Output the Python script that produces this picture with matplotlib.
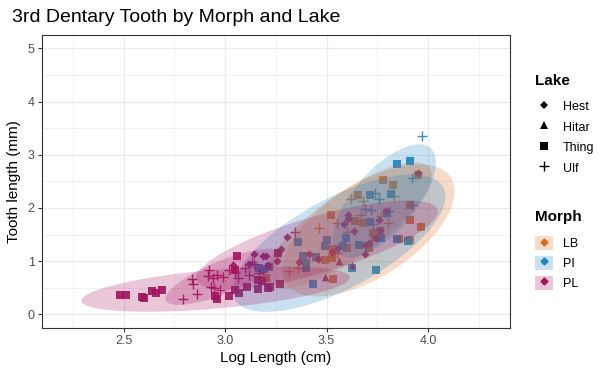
import numpy as np
import matplotlib
matplotlib.use('Agg')
import matplotlib.pyplot as plt
from matplotlib.lines import Line2D
from matplotlib.patches import Patch, Polygon

plt.rcParams['font.family'] = ['Liberation Sans', 'DejaVu Sans']

# ---------------- data ----------------
morphs = ['LB', 'PI', 'PL']
lakes = ['Hest', 'Hitar', 'Thing', 'Ulf']

lb_thing_x = [3.78, 3.83, 3.655, 3.52, 3.95, 3.91, 3.91, 3.965, 3.64, 3.68, 3.73, 3.765,
              3.855, 3.91, 3.60, 3.53, 3.525, 3.49, 3.71, 3.74, 3.20, 3.53]
lb_thing_y = [2.52, 2.43, 2.24, 1.87, 2.62, 2.06, 1.78, 1.64, 1.76, 1.72, 1.53, 1.56,
              1.42, 1.39, 1.25, 1.23, 1.06, 1.03, 1.25, 1.43, 0.68, 0.66]
lb_ulf_x = [3.465, 3.55, 3.62, 3.68, 3.835, 3.77, 3.805, 3.60, 3.67, 3.315, 3.36, 3.55]
lb_ulf_y = [1.62, 1.72, 2.16, 2.14, 2.22, 1.84, 1.72, 1.55, 1.87, 0.81, 0.88, 1.15]

pi_thing_x = [3.85, 3.91, 3.36, 3.50, 3.49, 3.595, 3.58, 3.385, 3.45, 3.40, 3.40, 3.165,
              3.215, 3.19, 3.435, 3.625, 3.745, 3.85, 3.90, 3.77, 3.80, 3.82, 3.715, 3.715, 3.66]
pi_thing_y = [2.83, 2.88, 1.36, 1.39, 1.29, 1.43, 1.29, 1.10, 1.07, 0.96, 0.87, 0.87,
              0.89, 0.85, 0.57, 0.88, 0.84, 1.42, 1.37, 1.43, 1.91, 2.27, 2.24, 1.73, 1.30]
pi_ulf_x = [3.97, 3.92, 3.92, 3.74, 3.76, 3.72, 3.81, 3.69, 3.73]
pi_ulf_y = [3.35, 2.57, 2.06, 2.28, 2.16, 1.97, 1.94, 1.98, 1.69]

pl_hest_x = [3.04, 3.12, 3.14, 3.185, 3.20, 3.21, 3.255, 3.26, 3.275, 3.305, 3.365, 3.415,
             3.46, 3.525, 3.555, 3.585, 3.607, 3.607, 3.635, 3.69, 3.69, 3.71, 3.745,
             3.76, 3.765, 3.795, 3.95]
pl_hest_y = [0.93, 0.94, 1.13, 1.09, 1.09, 0.92, 1.00, 1.18, 1.22, 1.45, 0.99, 1.14,
             1.04, 1.18, 1.25, 1.69, 1.87, 1.79, 1.56, 1.31, 1.14, 1.35, 1.43,
             1.77, 1.59, 1.94, 2.66]
pl_hitar_x = [3.49, 3.56, 3.625]
pl_hitar_y = [0.71, 1.01, 0.93]
pl_thing_x = [2.48, 2.51, 2.59, 2.60, 2.64, 2.66, 2.69, 2.95, 2.96, 3.02, 3.05, 3.07,
              3.11, 3.16, 3.18, 3.22, 3.27, 3.26, 3.05, 3.16, 3.21, 3.06]
pl_thing_y = [0.36, 0.36, 0.33, 0.30, 0.44, 0.41, 0.46, 0.34, 0.29, 0.35, 0.46, 0.41,
              0.52, 0.47, 0.63, 0.51, 0.57, 1.15, 0.84, 0.65, 0.49, 1.09]
pl_ulf_x = [2.79, 2.86, 2.835, 2.84, 2.92, 2.915, 2.94, 2.96, 2.99, 3.02, 3.065, 3.10,
            3.13, 3.165, 2.945, 2.975, 3.345, 3.12, 3.05, 3.14, 2.93]
pl_ulf_y = [0.28, 0.38, 0.66, 0.57, 0.84, 0.72, 0.68, 0.74, 0.71, 0.84, 0.68, 0.87,
            0.99, 0.77, 0.49, 0.46, 1.55, 0.74, 0.80, 0.95, 0.52]

groups = [
    ('LB', 'Thing', lb_thing_x, lb_thing_y),
    ('LB', 'Ulf', lb_ulf_x, lb_ulf_y),
    ('PI', 'Thing', pi_thing_x, pi_thing_y),
    ('PI', 'Ulf', pi_ulf_x, pi_ulf_y),
    ('PL', 'Hest', pl_hest_x, pl_hest_y),
    ('PL', 'Hitar', pl_hitar_x, pl_hitar_y),
    ('PL', 'Thing', pl_thing_x, pl_thing_y),
    ('PL', 'Ulf', pl_ulf_x, pl_ulf_y),
]

x_limits = [2.2, 4.3]
y_limits = [0, 5]
x_major = [2.5, 3.0, 3.5, 4.0]
x_minor = [2.25, 2.75, 3.25, 3.75, 4.25]
y_major = [0, 1, 2, 3, 4, 5]
y_minor = [0.5, 1.5, 2.5, 3.5, 4.5]

# ---------------- styles ----------------
morph_colors = {'LB': '#DD6B20', 'PI': '#1F83C6', 'PL': '#A3135F'}
lake_markers = {'Hest': 'D', 'Hitar': '^', 'Thing': 's', 'Ulf': '+'}
lake_sizes = {'Hest': 18, 'Hitar': 30, 'Thing': 26, 'Ulf': 60}


def cov_trob(X, nu=5, maxit=25, tol=0.01):
    n, p = X.shape
    loc = X.mean(axis=0)
    w = np.ones(n)
    D = X - loc
    for _ in range(maxit):
        w0 = w
        D = X - loc
        S = (D * (w / w.sum())[:, None]).T @ D
        Q = np.einsum('ij,jk,ik->i', D, np.linalg.inv(S), D)
        w = (nu + p) / (nu + Q)
        loc = (w[:, None] * X).sum(axis=0) / w.sum()
        if np.all(np.abs(w - w0) < tol):
            break
    cov = (D * w[:, None]).T @ D / n
    return loc, cov


def t_ellipse(x, y, level=0.95, segments=51):
    X = np.column_stack([x, y]).astype(float)
    n = len(X)
    loc, cov = cov_trob(X)
    dfd = n - 1
    fq = dfd / 2.0 * ((1 - level) ** (-2.0 / dfd) - 1)
    radius = np.sqrt(2 * fq)
    ang = np.linspace(0, 2 * np.pi, segments)
    circle = np.column_stack([np.cos(ang), np.sin(ang)])
    U = np.linalg.cholesky(cov).T
    return loc + radius * circle @ U


fig = plt.figure(figsize=(6.10, 3.77), dpi=100)
ax = fig.add_axes([41.7 / 610, 1 - 327.7 / 377, (510 - 41.7) / 610, (327.7 - 35) / 377])

# points
for morph, lake, gx, gy in groups:
    c = morph_colors[morph]
    m = lake_markers[lake]
    if m == '+':
        ax.scatter(gx, gy, marker=m, s=lake_sizes[lake], color=c, linewidths=1.0,
                   alpha=0.9, zorder=2)
    else:
        ax.scatter(gx, gy, marker=m, s=lake_sizes[lake], color=c, linewidths=0,
                   alpha=0.9, zorder=2)

# ellipses (t-based, 95%)
for morph, lake, gx, gy in groups:
    if len(gx) < 4:
        continue
    pts = t_ellipse(gx, gy)
    ax.add_patch(Polygon(pts, closed=True, facecolor=morph_colors[morph],
                         edgecolor='none', alpha=0.24, zorder=3))

dx = (x_limits[1] - x_limits[0]) * 0.05
dy = (y_limits[1] - y_limits[0]) * 0.05
ax.set_xlim(x_limits[0] - dx, x_limits[1] + dx)
ax.set_ylim(y_limits[0] - dy, y_limits[1] + dy)
ax.set_xticks(x_major)
ax.set_xticklabels(['2.5', '3.0', '3.5', '4.0'])
ax.set_xticks(x_minor, minor=True)
ax.set_yticks(y_major)
ax.set_yticks(y_minor, minor=True)
ax.grid(which='major', color='#EBEBEB', linewidth=0.9, zorder=0)
ax.grid(which='minor', color='#EBEBEB', linewidth=0.5, zorder=0)
ax.set_axisbelow(True)
ax.tick_params(which='minor', length=0)
ax.tick_params(which='major', length=3, width=0.8, color='#333333',
               labelcolor='#4D4D4D', labelsize=9, pad=2)
for s in ax.spines.values():
    s.set_color('#333333')
    s.set_linewidth(0.8)

ax.set_xlabel('Log Length (cm)', fontsize=11, labelpad=3, color='black')
ax.set_ylabel('Tooth length (mm)', fontsize=11, labelpad=5, color='black')
fig.text(12 / 610, 1 - 17 / 377, '3rd Dentary Tooth by Morph and Lake',
         fontsize=14, ha='left', va='center')

# legends
fig.text(535 / 610, 1 - 81 / 377, 'Lake', fontsize=11, fontweight='bold',
         ha='left', va='center')
fig.text(535 / 610, 1 - 217 / 377, 'Morph', fontsize=11, fontweight='bold',
         ha='left', va='center')

lake_handles = [Line2D([], [], marker=lake_markers[l], ls='', color='black',
                       markersize=(4 if l == 'Hest' else 5.5 if l != 'Ulf' else 7.5),
                       markeredgewidth=(1.0 if l == 'Ulf' else 0))
                for l in lakes]
leg1 = fig.legend(lake_handles, lakes, loc='upper left',
                  bbox_to_anchor=(530 / 610, 1 - 94.5 / 377), frameon=False,
                  fontsize=9, handlelength=1.4, handleheight=1.2,
                  labelspacing=0.55, handletextpad=0.8, borderaxespad=0)

morph_handles = [(Patch(facecolor=morph_colors[m], alpha=0.24, edgecolor='none'),
                  Line2D([], [], marker='D', ls='', color=morph_colors[m], markersize=3.5))
                 for m in morphs]
leg2 = fig.legend(morph_handles, morphs, loc='upper left',
                  bbox_to_anchor=(530 / 610, 1 - 231 / 377), frameon=False,
                  fontsize=9, handlelength=1.4, handleheight=1.35,
                  labelspacing=0.45, handletextpad=0.8, borderaxespad=0)

fig.savefig('out.png', dpi=100)
